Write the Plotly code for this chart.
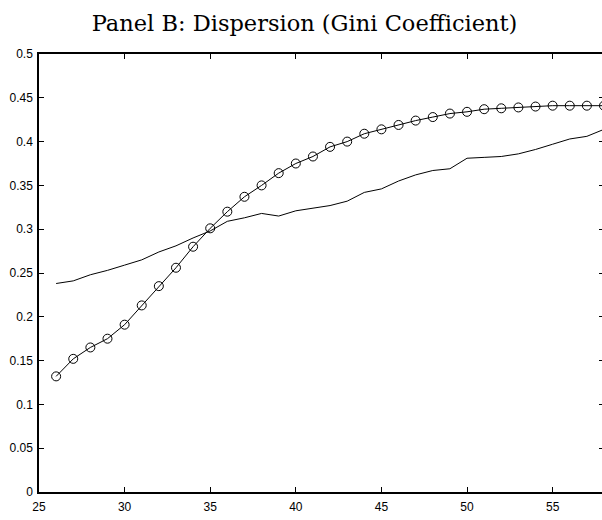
import plotly.graph_objects as go

# Age grid (years)
ages = list(range(26, 59))

# Gini coefficient, model (circles)
gini_model = [
    0.132, 0.152, 0.165, 0.175, 0.191, 0.213, 0.235, 0.256, 0.280, 0.301,
    0.320, 0.337, 0.350, 0.364, 0.375, 0.383, 0.394, 0.400, 0.409, 0.414,
    0.419, 0.424, 0.428, 0.432, 0.434, 0.437, 0.438, 0.439, 0.440, 0.441,
    0.441, 0.441, 0.441,
]

# Gini coefficient, data (plain line)
gini_data = [
    0.238, 0.241, 0.248, 0.253, 0.259, 0.265, 0.274, 0.281, 0.290, 0.298,
    0.309, 0.313, 0.318, 0.315, 0.321, 0.324, 0.327, 0.332, 0.342, 0.346,
    0.355, 0.362, 0.367, 0.369, 0.381, 0.382, 0.383, 0.386, 0.391, 0.397,
    0.403, 0.406, 0.414,
]

x_ticks = [25, 30, 35, 40, 45, 50, 55]
y_ticks = [0, 0.05, 0.1, 0.15, 0.2, 0.25, 0.3, 0.35, 0.4, 0.45, 0.5]
y_tick_text = ["0", "0.05", "0.1", "0.15", "0.2", "0.25", "0.3", "0.35", "0.4", "0.45", "0.5"]

fig = go.Figure()
fig.add_trace(go.Scatter(
    x=ages, y=gini_data, mode="lines",
    line=dict(color="black", width=1),
    showlegend=False,
))
fig.add_trace(go.Scatter(
    x=ages, y=gini_model, mode="lines+markers",
    line=dict(color="black", width=1),
    marker=dict(symbol="circle-open", size=9, color="black", line=dict(width=1)),
    showlegend=False,
))

axis_common = dict(
    showgrid=False, zeroline=False,
    showline=True, linecolor="black", linewidth=1.5,
    mirror="ticks", ticks="inside", ticklen=5, tickwidth=1, tickcolor="black",
    tickfont=dict(family="Liberation Sans, Arial, sans-serif", size=12, color="black"),
)

fig.update_xaxes(range=[25, 58], tickvals=x_ticks, ticklabelstandoff=3, **axis_common)
fig.update_yaxes(range=[0, 0.5], tickvals=y_ticks, ticktext=y_tick_text,
                 ticklabelstandoff=2, **axis_common)

fig.update_layout(
    width=612, height=520,
    margin=dict(l=39, r=6, t=54, b=19),
    paper_bgcolor="white", plot_bgcolor="white",
    title=dict(
        text="Panel B: Dispersion (Gini Coefficient)",
        font=dict(family="DejaVu Serif, serif", size=22.5, color="black"),
        x=304.5 / 612, xanchor="center", y=1 - 23.5 / 520, yanchor="middle",
    ),
)

fig.write_html(
    "out.html",
    post_script=(
        "document.documentElement.style.overflow='hidden';"
        "document.body.style.overflow='hidden';"
        "document.body.style.margin='0';"
    ),
)
